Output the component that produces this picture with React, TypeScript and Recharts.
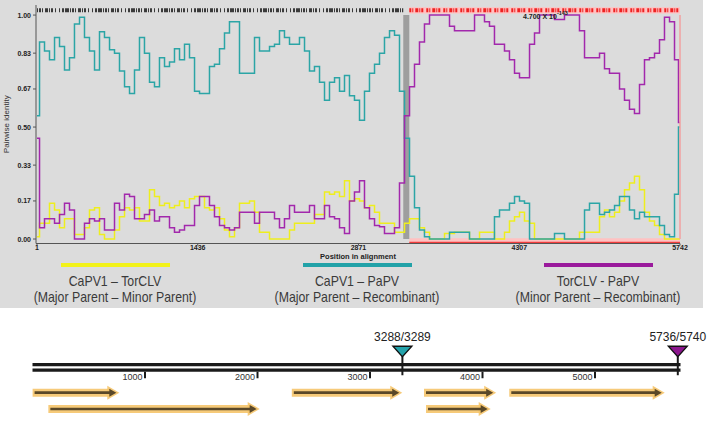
import React from 'react';
import { LineChart, Line, XAxis, YAxis, ReferenceArea, ReferenceLine, ComposedChart } from 'recharts';

// sliding-window positions in the alignment
const POSITIONS = [
  1, 46, 90, 135, 180, 224, 269, 313, 358, 403,
  447, 492, 537, 581, 626, 671, 715, 760, 805, 849,
  894, 938, 983, 1028, 1072, 1117, 1162, 1206, 1251, 1296,
  1340, 1385, 1430, 1474, 1519, 1563, 1608, 1653, 1697, 1742,
  1787, 1831, 1876, 1921, 1965, 2010, 2055, 2099, 2144, 2188,
  2233, 2278, 2322, 2367, 2412, 2456, 2501, 2546, 2590, 2635,
  2680, 2724, 2769, 2813, 2858, 2903, 2947, 2992, 3037, 3081,
  3126, 3171, 3215, 3260, 3305, 3349, 3394, 3438, 3483, 3528,
  3572, 3617, 3662, 3706, 3751, 3796, 3840, 3885, 3930, 3974,
  4019, 4063, 4108, 4153, 4197, 4242, 4287, 4331, 4376, 4421,
  4465, 4510, 4555, 4599, 4644, 4688, 4733, 4778, 4822, 4867,
  4912, 4956, 5001, 5046, 5090, 5135, 5180, 5224, 5269, 5313,
  5358, 5403, 5447, 5492, 5537, 5581, 5626, 5671, 5715, 5742,
];

// CaPV1 - TorCLV (yellow)
const CAPV1_TORCLV = [
  0.01, 0.07, 0.07, 0.16, 0.13, 0.05, 0.09, 0.09, 0.02, 0.02,
  0.05, 0.13, 0.14, 0.02, 0, 0, 0.04, 0.10, 0.14, 0.13,
  0.14, 0.08, 0.08, 0.22, 0.19, 0.15, 0.16, 0.14, 0.15, 0.17,
  0.14, 0.18, 0.19, 0.19, 0.14, 0.13, 0.14, 0.09, 0.04, 0.01,
  0.05, 0.16, 0.16, 0.17, 0.12, 0.03, 0.03, 0, 0, 0,
  0, 0.04, 0.07, 0.07, 0.07, 0.07, 0.11, 0.11, 0.21, 0.20,
  0.21, 0.19, 0.26, 0.17, 0.18, 0.17, 0.14, 0.15, 0.12, 0.07,
  0.07, 0.07, 0.03, 0.03, 0.07, 0.09, 0.09, 0.05, 0.03, 0,
  0, 0, 0.025, 0.025, 0.03, 0.03, 0.03, 0, 0, 0.03,
  0.03, 0.03, 0, 0, 0.03, 0.08, 0.10, 0.12, 0.08, 0.07,
  0, 0, 0, 0, 0, 0, 0, 0, 0, 0.03,
  0.03, 0.03, 0.03, 0.10, 0.13, 0.10, 0.12, 0.17, 0.22, 0.25,
  0.28, 0.22, 0.12, 0.08, 0.06, 0.02, 0, 0, 0, 0,
];

// CaPV1 - PaPV (cyan)
const CAPV1_PAPV = [
  0.55, 0.88, 0.84, 0.80, 0.90, 0.86, 0.755, 0.81, 0.96, 0.99,
  0.90, 0.84, 0.755, 0.925, 0.90, 0.845, 0.83, 0.75, 0.68, 0.65,
  0.755, 0.90, 0.83, 0.70, 0.68, 0.81, 0.77, 0.79, 0.85, 0.80,
  0.87, 0.81, 0.66, 0.65, 0.65, 0.77, 0.78, 0.85, 0.92, 0.97,
  0.97, 0.74, 0.74, 0.74, 0.90, 0.84, 0.84, 0.86, 0.87, 0.93,
  0.90, 0.87, 0.87, 0.90, 0.84, 0.75, 0.77, 0.70, 0.62, 0.70,
  0.72, 0.66, 0.73, 0.64, 0.62, 0.53, 0.66, 0.74, 0.78, 0.83,
  0.90, 0.93, 0.91, 0.66, 0.45, 0.28, 0.14, 0.04, 0.01, 0,
  0, 0, 0, 0.03, 0.03, 0.03, 0.03, 0, 0, 0,
  0, 0, 0.10, 0.13, 0.13, 0.16, 0.19, 0.17, 0.16, 0,
  0, 0, 0, 0, 0.025, 0.025, 0, 0, 0, 0,
  0.13, 0.16, 0.16, 0.11, 0.12, 0.13, 0.15, 0.19, 0.19, 0.13,
  0.09, 0.12, 0.10, 0.10, 0.10, 0.06, 0.02, 0.01, 0.20, 0.50,
];

// TorCLV - PaPV (purple)
const TORCLV_PAPV = [
  0.45, 0.05, 0.09, 0.09, 0.07, 0.11, 0.16, 0.13, 0, 0,
  0.07, 0.09, 0.08, 0.09, 0.04, 0.04, 0.16, 0.13, 0.20, 0.19,
  0.09, 0.09, 0.11, 0.13, 0.08, 0.10, 0.10, 0.05, 0.03, 0.04,
  0.06, 0.06, 0.15, 0.19, 0.19, 0.15, 0.10, 0.06, 0.05, 0.04,
  0.05, 0.12, 0.12, 0.12, 0.07, 0.12, 0.12, 0.12, 0.09, 0.05,
  0.09, 0.15, 0.12, 0.12, 0.12, 0.15, 0.09, 0.09, 0.15, 0.10,
  0.09, 0.05, 0.025, 0.17, 0.21, 0.26, 0.14, 0.09, 0.06, 0.055,
  0.025, 0.025, 0.05, 0.25, 0.55, 0.68, 0.78, 0.88, 0.96, 1.0,
  1.0, 1.0, 1.0, 0.95, 0.93, 0.93, 0.93, 0.93, 1.0, 1.0,
  0.97, 0.95, 0.87, 0.87, 0.84, 0.80, 0.74, 0.72, 0.72, 0.87,
  0.92, 1.0, 1.0, 1.0, 0.98, 0.98, 1.0, 1.0, 1.0, 0.93,
  0.81, 0.81, 0.81, 0.83, 0.76, 0.74, 0.74, 0.67, 0.62, 0.58,
  0.56, 0.69, 0.80, 0.81, 0.83, 0.89, 0.99, 0.97, 0.80, 0.52,
];

const X_TICKS = [1, 1436, 2871, 4307, 5742];
const Y_TICKS = [0, 0.17, 0.33, 0.5, 0.67, 0.83, 1.0];

// breakpoint window and recombinant region in the alignment
const BREAK_WINDOW = [3271, 3325];
const RECOMB_REGION = [3325, 5742];

const LEGEND = [
  { pair: 'CaPV1 – TorCLV', roles: '(Major Parent – Minor Parent)', color: '#f2f21a' },
  { pair: 'CaPV1 – PaPV', roles: '(Major Parent – Recombinant)', color: '#22a2a8' },
  { pair: 'TorCLV - PaPV', roles: '(Minor Parent – Recombinant)', color: '#9a1a9c' },
];

// genome map
const GENOME_LENGTH = 5760;
const MAP_TICKS = [1000, 2000, 3000, 4000, 5000];
const BREAKPOINTS = [
  { pos: 3288, label: '3288/3289', color: '#24a3ab' },
  { pos: 5736, label: '5736/5740', color: '#8c168e' },
];
const ORF_STARTS = [1, 2305, 3480, 4238, 141, 3498];
const ORF_ENDS = [745, 3260, 4095, 5593, 1993, 4046];
const ORF_LANES = [1, 1, 1, 1, 2, 2];
const BACKBONE_LANE = -0.56;

const rows = POSITIONS.map((pos, i) => ({
  pos,
  capv1Torclv: CAPV1_TORCLV[i],
  capv1Papv: CAPV1_PAPV[i],
  torclvPapv: TORCLV_PAPV[i],
}));

const FONT = "'Liberation Sans', Arial, sans-serif";

const Backbone = (p: any) => (
  <g>
    <line x1={p.x1} y1={p.y1 - 2.7} x2={p.x2} y2={p.y2 - 2.7} stroke="#1a1a1a" strokeWidth={3.2} />
    <line x1={p.x1} y1={p.y1 + 2.8} x2={p.x2} y2={p.y2 + 2.8} stroke="#1a1a1a" strokeWidth={3.2} />
  </g>
);

const MapTick = (p: any) => (
  <g>
    <line x1={p.x1} y1={p.y1 + 4.5} x2={p.x1} y2={p.y1 + 11} stroke="#1a1a1a" strokeWidth={2} />
    <text x={p.x1 - 2.5} y={p.y1 + 13} textAnchor="end" fontSize={9} fill="#333" fontFamily={FONT}>
      {p.label}
    </text>
  </g>
);

const Breakpoint = (p: any) => (
  <g>
    <line x1={p.x1} y1={p.y1 - 11} x2={p.x1} y2={p.y1 + 8} stroke="#1a1a1a" strokeWidth={2} />
    <polygon
      points={`${p.x1 - 9.5},${p.y1 - 21} ${p.x1 + 9.5},${p.y1 - 21} ${p.x1},${p.y1 - 10.5}`}
      fill={p.fillColor}
      stroke="#111"
      strokeWidth={1.3}
    />
    <text x={p.x1} y={p.y1 - 26.5} textAnchor="middle" fontSize={12} fill="#222" fontFamily={FONT}>
      {p.label}
    </text>
  </g>
);

const OrfArrow = (p: any) => {
  const { x1, x2, y1: y } = p;
  return (
    <g>
      <line x1={x1} y1={y} x2={x2 - 6} y2={y} stroke="#f5c46a" strokeWidth={8} strokeOpacity={0.9} />
      <polygon points={`${x2 - 9},${y - 7} ${x2 + 3},${y} ${x2 - 9},${y + 7}`} fill="#f5c46a" fillOpacity={0.9} />
      <line x1={x1 + 2} y1={y} x2={x2 - 6} y2={y} stroke="#5a4828" strokeWidth={2.6} />
      <polygon points={`${x2 - 7},${y - 4} ${x2},${y} ${x2 - 7},${y + 4}`} fill="#5a4828" />
    </g>
  );
};

const legendText: React.CSSProperties = {
  position: 'absolute',
  width: 240,
  textAlign: 'center',
  fontSize: 15,
  lineHeight: '17px',
  color: '#3a3a3a',
  whiteSpace: 'nowrap',
  transform: 'scaleX(0.82)',
  transformOrigin: 'center',
};

const App: React.FC = () => {
  return (
    <div style={{ position: 'absolute', left: 0, top: 0, width: 708, height: 421, background: '#fff', overflow: 'hidden', fontFamily: FONT }}>
      <div style={{ position: 'absolute', left: 0, top: 0, width: 703, height: 308, background: '#dcdcdc' }} />

      <div style={{ position: 'absolute', left: 0, top: 0 }}>
        <LineChart width={708} height={262} data={rows} margin={{ top: 5, right: 28, bottom: 0, left: 0 }}>
          <ReferenceArea x1={RECOMB_REGION[0]} x2={RECOMB_REGION[1]} y1={1.007} y2={1.035} fill="#ffc2c2" fillOpacity={1} ifOverflow="visible" />
          <ReferenceArea x1={RECOMB_REGION[0]} x2={RECOMB_REGION[1]} y1={-0.02} y2={0.004} fill="#ffc2c2" fillOpacity={1} ifOverflow="visible" />
          <ReferenceLine
            segment={[{ x: 1, y: 1.021 }, { x: BREAK_WINDOW[0], y: 1.021 }]}
            stroke="#3a3a3a"
            strokeWidth={4}
            strokeDasharray="1 1 2 1 1 2 3 1 1 1 2 2 1 3 1 2 2 1 4 1"
            ifOverflow="visible"
          />
          <ReferenceLine
            segment={[{ x: RECOMB_REGION[0], y: 1.021 }, { x: RECOMB_REGION[1], y: 1.021 }]}
            stroke="#ee2222"
            strokeWidth={4}
            strokeDasharray="2 1 1 2 3 1 1 1 2 3"
            ifOverflow="visible"
          />
          <XAxis
            type="number"
            dataKey="pos"
            domain={[-8, 5742]}
            ticks={X_TICKS}
            interval={0}
            allowDataOverflow
            height={18.5}
            tickSize={2}
            tickMargin={0}
            stroke="#555"
            tick={{ fontSize: 7, fontWeight: 'bold', fill: '#222' }}
            label={{ value: 'Position in alignment', position: 'insideBottom', offset: 3, fontSize: 7.5, fontWeight: 'bold', fill: '#222' }}
          />
          <YAxis
            type="number"
            domain={[-0.02, 1.045]}
            ticks={Y_TICKS}
            interval={0}
            allowDataOverflow
            width={36}
            tickSize={3}
            tickMargin={2}
            stroke="#555"
            tickFormatter={(v: number) => v.toFixed(2)}
            tick={{ fontSize: 7, fontWeight: 'bold', fill: '#222' }}
            label={{ value: 'Pairwise identity', angle: -90, position: 'insideLeft', offset: 6, fontSize: 8, fill: '#333', style: { textAnchor: 'middle' } }}
          />
          <Line type="step" dataKey="capv1Torclv" stroke="#eeee1e" strokeWidth={1.5} dot={false} isAnimationActive={false} />
          <Line type="step" dataKey="capv1Papv" stroke="#2ba5a6" strokeWidth={1.5} dot={false} isAnimationActive={false} />
          <Line type="step" dataKey="torclvPapv" stroke="#a228ac" strokeWidth={1.5} dot={false} isAnimationActive={false} />
          <ReferenceArea x1={BREAK_WINDOW[0]} x2={BREAK_WINDOW[1]} y1={0} y2={1} fill="#8a8a8a" fillOpacity={0.75} />
          <ReferenceLine
            segment={[{ x: RECOMB_REGION[0], y: -0.017 }, { x: RECOMB_REGION[1], y: -0.017 }]}
            stroke="#f03c3c"
            strokeWidth={2}
            ifOverflow="visible"
          />
          <ReferenceLine
            segment={[{ x: RECOMB_REGION[1], y: 0 }, { x: RECOMB_REGION[1], y: 1.0 }]}
            stroke="#f2a0a0"
            strokeWidth={1.5}
            ifOverflow="visible"
          />
        </LineChart>
      </div>

      <div style={{ position: 'absolute', left: 523, top: 13, fontSize: 7, fontWeight: 'bold', color: '#222', whiteSpace: 'nowrap', lineHeight: '8px' }}>
        4.700 X 10<span style={{ position: 'relative', top: -4, fontSize: 5.5 }}>-143</span>
      </div>

      {LEGEND.map((item, i) => {
        const center = [115, 357, 598][i];
        return (
          <React.Fragment key={item.pair}>
            <div style={{ position: 'absolute', left: center - 54.5, top: 263, width: 109, height: 4, background: item.color }} />
            <div style={{ ...legendText, left: center - 120, top: 272 }}>{item.pair}</div>
            <div style={{ ...legendText, left: center - 120, top: 288 }}>{item.roles}</div>
          </React.Fragment>
        );
      })}

      <div style={{ position: 'absolute', left: 0, top: 320 }}>
        <ComposedChart width={708} height={101} data={[]} margin={{ top: 0, right: 27.5, bottom: 0, left: 32.5 }}>
          <XAxis type="number" dataKey="x" domain={[0, GENOME_LENGTH]} allowDataOverflow hide />
          <YAxis type="number" domain={[-3.46, 2.74]} reversed allowDataOverflow hide />
          <ReferenceLine
            segment={[{ x: 0, y: BACKBONE_LANE }, { x: GENOME_LENGTH, y: BACKBONE_LANE }]}
            shape={Backbone}
            ifOverflow="visible"
          />
          {MAP_TICKS.map((t) => (
            <ReferenceLine
              key={t}
              segment={[{ x: t, y: BACKBONE_LANE }, { x: t, y: BACKBONE_LANE }]}
              shape={(p: any) => <MapTick {...p} label={String(t)} />}
              ifOverflow="visible"
            />
          ))}
          {BREAKPOINTS.map((b) => (
            <ReferenceLine
              key={b.label}
              segment={[{ x: b.pos, y: BACKBONE_LANE }, { x: b.pos, y: BACKBONE_LANE }]}
              shape={(p: any) => <Breakpoint {...p} label={b.label} fillColor={b.color} />}
              ifOverflow="visible"
            />
          ))}
          {ORF_STARTS.map((s, i) => (
            <ReferenceLine
              key={`orf-${i}`}
              segment={[{ x: s, y: ORF_LANES[i] }, { x: ORF_ENDS[i], y: ORF_LANES[i] }]}
              shape={OrfArrow}
              ifOverflow="visible"
            />
          ))}
        </ComposedChart>
      </div>
    </div>
  );
};

export default App;
